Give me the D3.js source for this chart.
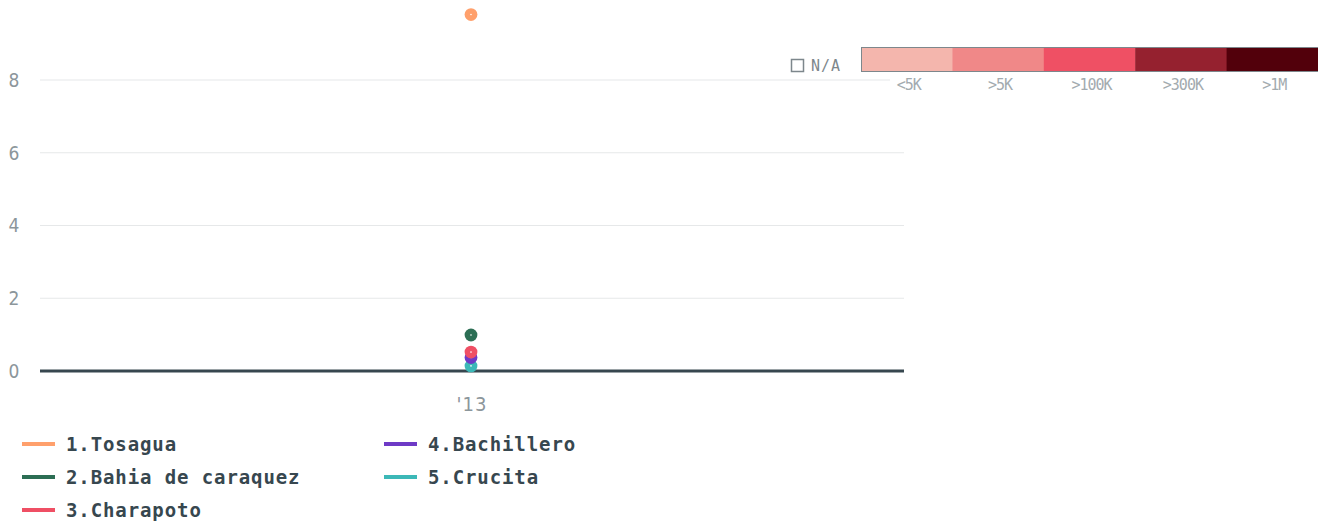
<!DOCTYPE html>
<html>
<head>
<meta charset="utf-8">
<script src="https://cdn.jsdelivr.net/npm/d3@7"></script>
<style>
  html, body { margin: 0; padding: 0; background: #fff; }
  svg { display: block; }
</style>
</head>
<body>
<svg id="chart"></svg>
<script>
// data
const years = ["'13"];
const seriesNames = ["1.Tosagua", "2.Bahia de caraquez", "3.Charapoto", "4.Bachillero", "5.Crucita"];
const seriesColors = ["#ffa06c", "#2c6e54", "#ef4f64", "#6e3ac6", "#3cb8b7"];
const seriesValues = [9.8, 0.99, 0.52, 0.37, 0.14];
const yTicks = [0, 2, 4, 6, 8];
const scaleLabels = ["<5K", ">5K", ">100K", ">300K", ">1M"];
const scaleColors = ["#f4b6ad", "#f08888", "#ef5064", "#95212f", "#52000b"];

const width = 1318, height = 528;
const svg = d3.select("#chart").attr("width", width).attr("height", height);

const x = d3.scaleBand().domain(years).range([40, 904]);
const y = d3.scaleLinear().domain([0, 8]).range([371, 80]);

// gridlines
svg.append("g")
  .selectAll("line")
  .data(yTicks.filter(d => d > 0))
  .enter().append("line")
  .attr("x1", 40).attr("x2", 904)
  .attr("y1", d => y(d)).attr("y2", d => y(d))
  .attr("stroke", "#e6e8e9").attr("stroke-width", 1.2);

// y axis labels
svg.append("g")
  .selectAll("text")
  .data(yTicks)
  .enter().append("text")
  .attr("x", 14).attr("y", d => y(d))
  .attr("dy", "0.36em")
  .attr("text-anchor", "middle")
  .attr("fill", "#8c969b")
  .style("font-family", "'DejaVu Sans Condensed', 'DejaVu Sans'")
  .style("font-size", "19px")
  .text(d => d);

// baseline
svg.append("line")
  .attr("x1", 40).attr("x2", 904)
  .attr("y1", y(0)).attr("y2", y(0))
  .attr("stroke", "#37474f").attr("stroke-width", 3);

// x axis label
svg.append("text")
  .attr("x", x(years[0]) + x.bandwidth() / 2)
  .attr("y", 411)
  .attr("text-anchor", "middle")
  .attr("fill", "#8c969b")
  .style("font-family", "'DejaVu Sans Condensed', 'DejaVu Sans'")
  .style("font-size", "20px")
  .style("letter-spacing", "1px")
  .text(years[0]);

// dots (drawn last series first)
const order = d3.range(seriesNames.length).reverse();
const cx = x(years[0]) + x.bandwidth() / 2 - 1;
const dots = svg.append("g").selectAll("g")
  .data(order)
  .enter().append("g");
dots.append("circle")
  .attr("cx", cx).attr("cy", i => y(seriesValues[i]))
  .attr("r", 6.4).attr("fill", i => seriesColors[i]);
dots.append("circle")
  .attr("cx", cx).attr("cy", i => y(seriesValues[i]))
  .attr("r", 0.8).attr("fill", "#fff");

// series legend
const legend = svg.append("g")
  .selectAll("g")
  .data(seriesNames)
  .enter().append("g")
  .attr("transform", (d, i) => `translate(${i < 3 ? 22 : 384}, ${444 + (i % 3) * 33})`);
legend.append("line")
  .attr("x1", 0).attr("x2", 33)
  .attr("stroke", (d, i) => seriesColors[i])
  .attr("stroke-width", 4);
legend.append("text")
  .attr("x", 44).attr("dy", "0.36em")
  .attr("fill", "#37474f")
  .style("font-family", "'DejaVu Sans Mono'")
  .style("font-weight", "bold")
  .style("font-size", "19px")
  .style("letter-spacing", "0.9px")
  .text(d => d);

// colour scale legend
const sx = d3.scaleBand().domain(scaleLabels).range([861, 1318]);
svg.append("rect")
  .attr("x", 890).attr("y", 72).attr("width", 428).attr("height", 24)
  .attr("fill", "#fff");
svg.append("g")
  .selectAll("rect")
  .data(scaleLabels)
  .enter().append("rect")
  .attr("x", d => sx(d)).attr("y", 48)
  .attr("width", sx.bandwidth() + 0.5).attr("height", 23)
  .attr("fill", (d, i) => scaleColors[i]);
svg.append("rect")
  .attr("x", 861.5).attr("y", 47.5).attr("width", 460).attr("height", 24)
  .attr("fill", "none").attr("stroke", "#7d878c").attr("stroke-width", 1);
svg.append("g")
  .selectAll("text")
  .data(scaleLabels)
  .enter().append("text")
  .attr("x", d => sx(d) + sx.bandwidth() / 2 + 2)
  .attr("y", 85).attr("dy", "0.36em")
  .attr("text-anchor", "middle")
  .attr("fill", "#a3abaf")
  .style("font-family", "'DejaVu Sans Mono'")
  .style("font-size", "15px")
  .style("letter-spacing", "-1px")
  .text(d => d);

// N/A box
svg.append("rect")
  .attr("x", 791.5).attr("y", 59.5).attr("width", 12).attr("height", 12)
  .attr("fill", "none").attr("stroke", "#7d878c").attr("stroke-width", 1.5);
svg.append("text")
  .attr("x", 811).attr("y", 66).attr("dy", "0.36em")
  .attr("fill", "#7d878c")
  .style("font-family", "'DejaVu Sans Mono'")
  .style("font-size", "15px")
  .style("letter-spacing", "1px")
  .text("N/A");
</script>
</body>
</html>
